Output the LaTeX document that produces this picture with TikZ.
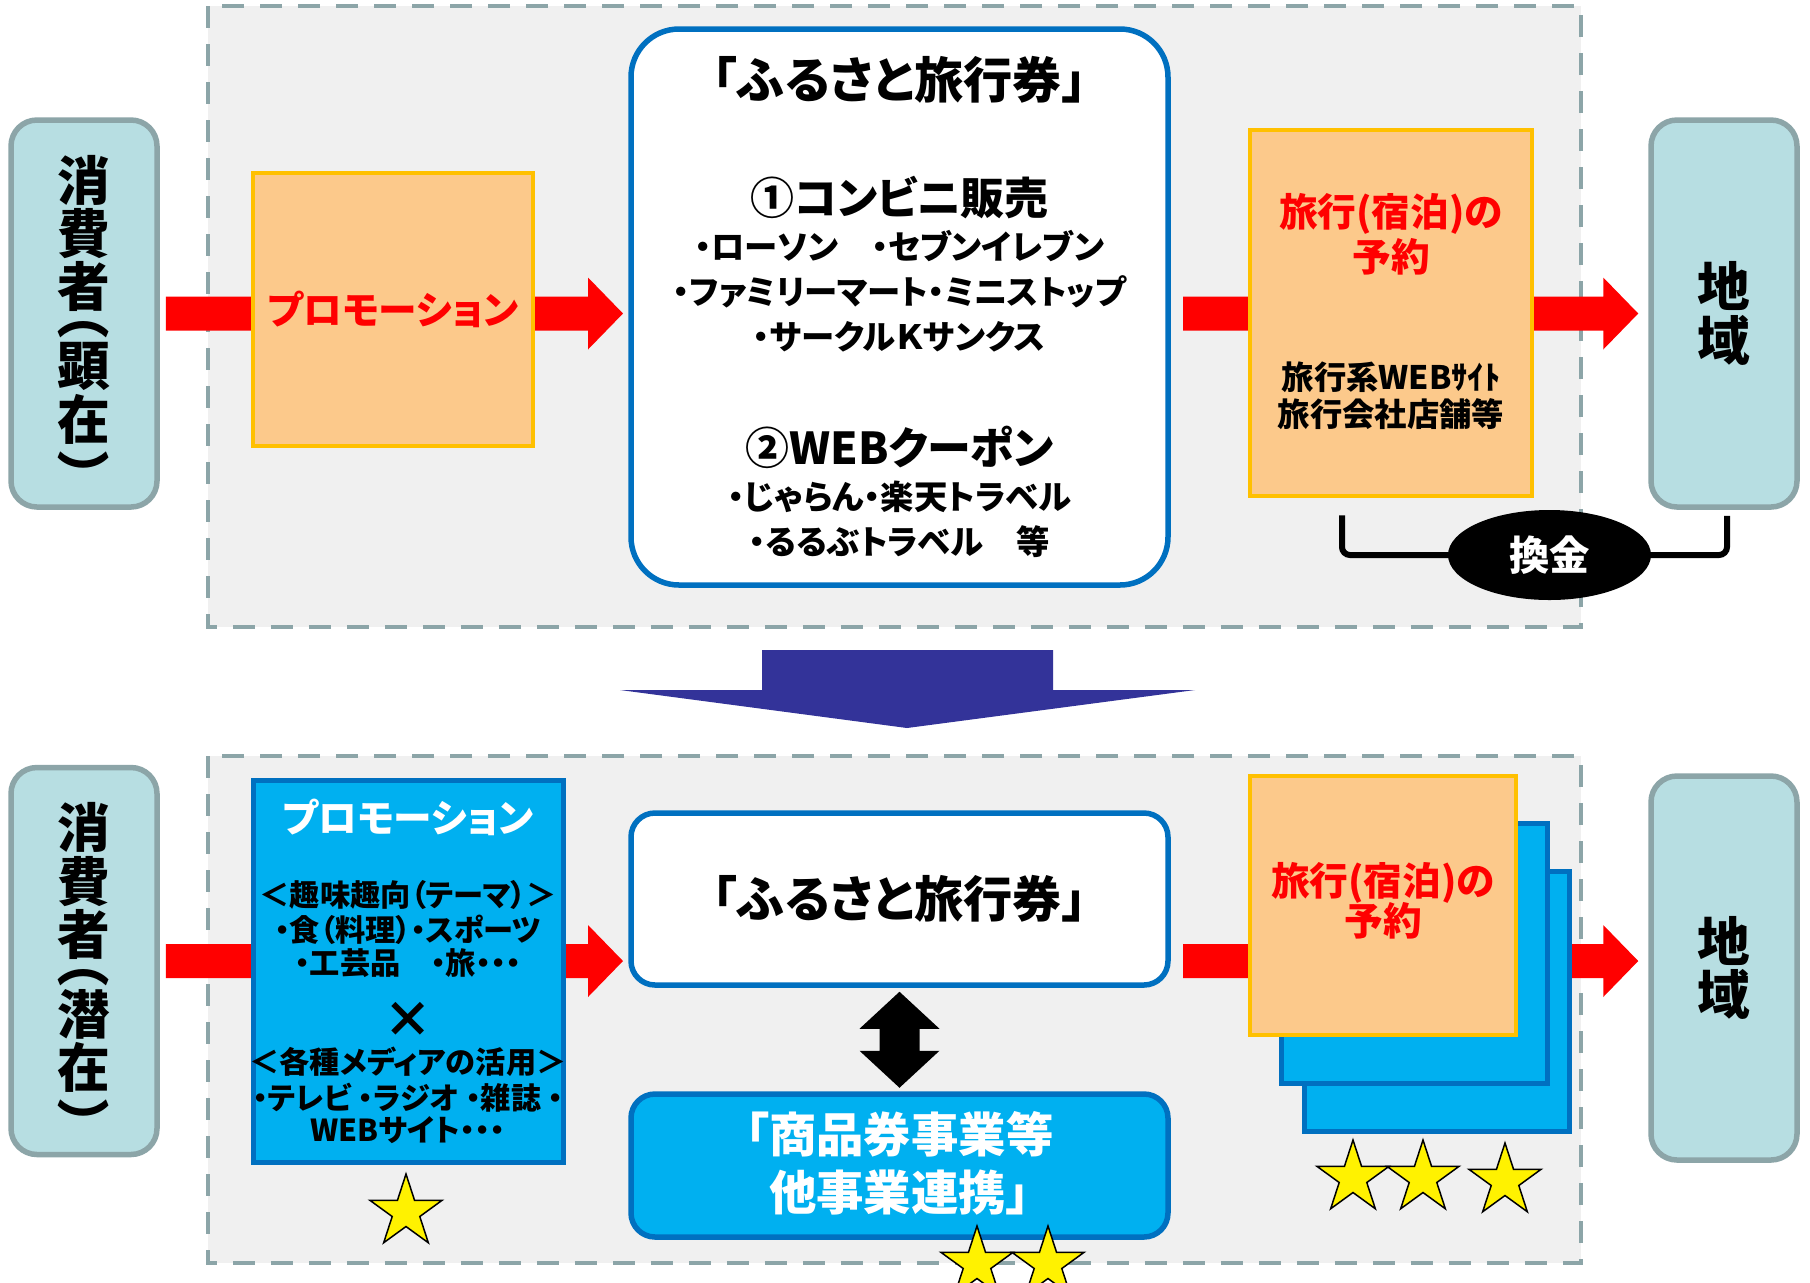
\documentclass[tikz,border=0pt]{standalone}
\usepackage{fontspec}
\setmainfont{Noto Sans CJK JP}[RawFeature=+palt]
\usetikzlibrary{positioning,calc,shapes.geometric}

\definecolor{panelgray}{HTML}{F0F0F0}
\definecolor{framegray}{HTML}{8CA5A8}
\definecolor{tealfill}{HTML}{B7DEE2}
\definecolor{orangefill}{HTML}{FCC98B}
\definecolor{goldline}{HTML}{FFC000}
\definecolor{blueline}{HTML}{0070C0}
\definecolor{cyanfill}{HTML}{00B0F0}
\definecolor{arrowred}{HTML}{FF0000}
\definecolor{navyarrow}{HTML}{333399}

\newcommand{\jsize}[2]{\fontsize{#1}{#2}\selectfont\bfseries}
% block arrow, tip at #2, height taken from #1
\newcommand{\redarrow}[2]{%
  \fill[arrowred] let \p1=(#1), \p2=(#2) in
    (\x1,\y1+1.7mm) -- (\x2-3.5mm,\y1+1.7mm) -- (\x2-3.5mm,\y1+3.6mm) -- (\x2,\y1)
    -- (\x2-3.5mm,\y1-3.6mm) -- (\x2-3.5mm,\y1-1.7mm) -- (\x1,\y1-1.7mm) -- cycle;}

\begin{document}
\begin{tikzpicture}[
    x=0.1mm, y=-0.1mm,
    panel/.style={draw=framegray, line width=0.45mm, dash pattern=on 2.2mm off 1.6mm, fill=panelgray},
    person/.style={rectangle, rounded corners=2.6mm, draw=framegray, line width=0.55mm, fill=tealfill,
        minimum width=14.6mm, minimum height=38.7mm, inner sep=0, align=center, font=\jsize{15pt}{15.2pt}},
    vtxt/.style={inner sep=0, align=center, font=\jsize{15pt}{15.2pt}},
    vparen/.style={inner sep=0, rotate=-90, font=\jsize{15pt}{15.2pt}},
    orangebox/.style={rectangle, draw=goldline, line width=0.45mm, fill=orangefill, inner sep=0},
    bluebox/.style={rectangle, draw=blueline, line width=0.5mm, fill=cyanfill, inner sep=0},
    ticketbox/.style={rectangle, draw=blueline, line width=0.55mm, fill=white, inner sep=0},
    bigtxt/.style={font=\jsize{14pt}{16pt}, inner sep=0},
    headtxt/.style={font=\jsize{12.5pt}{15pt}, inner sep=0},
    itemtxt/.style={font=\jsize{9.5pt}{12pt}, inner sep=0},
    smalltxt/.style={font=\jsize{8.6pt}{10pt}, inner sep=0},
    redtxt/.style={text=arrowred, font=\jsize{11pt}{13pt}, inner sep=0},
    cash/.style={ellipse, fill=black, minimum width=20.3mm, minimum height=9mm, inner sep=0,
        text=white, font=\jsize{11.5pt}{13pt}},
    staritem/.style={star, star points=5, star point ratio=2.618, minimum size=7.6mm, inner sep=0,
        fill=yellow, draw=black, line width=0.15mm}
]
\useasboundingbox (0,0) rectangle (1810,1282);
\fill[white] (0,0) rectangle (1810,1282);

% ---- before
\draw[panel] (208,6) rectangle (1581,627);

\node[person] (cons1) at (84,313.5) {};
\node[vtxt]   (cons1top)   at ($(cons1.center)+(0,-80)$)  {消\\費\\者};
\node[vparen] (cons1open)  at ($(cons1.center)+(0,11.5)$) {（};
\node[vtxt]   (cons1mid)   at ($(cons1.center)+(0,80)$)   {顕\\在};
\node[vparen] (cons1close) at ($(cons1.center)+(0,151.5)$) {）};
\node[person] (region1) at (1724,313.5) {地\\域};

\redarrow{[xshift=0.6mm]cons1.east}{[xshift=-0.8mm]631,307}
\redarrow{[xshift=1.5mm]1168,307 |- region1.west}{[xshift=-1mm]region1.west}

\node[orangebox, minimum width=28mm, minimum height=27.3mm] (promo1) at (393,309.5) {};
\node[redtxt] (promo1txt) at (promo1.center) {プロモーション};

\node[ticketbox, rounded corners=4.8mm, minimum width=53.7mm, minimum height=55.6mm] (ticket1) at (899.5,307) {};
\node[bigtxt]  (t1title) at ($(ticket1.north)+(0,54)$)  {「ふるさと旅行券」};
\node[headtxt] (t1conv)  at ($(ticket1.north)+(0,171)$) {①コンビニ販売};
\node[itemtxt] (t1convA) at ($(ticket1.north)+(0,220)$) {・ローソン　・セブンイレブン};
\node[itemtxt] (t1convB) at ($(ticket1.north)+(0,266)$) {・ファミリーマート・ミニストップ};
\node[itemtxt] (t1convC) at ($(ticket1.north)+(0,311)$) {・サークルＫサンクス};
\node[headtxt] (t1web)   at ($(ticket1.north)+(0,421)$) {②WEBクーポン};
\node[itemtxt] (t1webA)  at ($(ticket1.north)+(0,471)$) {・じゃらん・楽天トラベル};
\node[itemtxt] (t1webB)  at ($(ticket1.north)+(0,515)$) {・るるぶトラベル　等};

\node[orangebox, minimum width=28.2mm, minimum height=36.6mm] (book1) at (1391,313) {};
\node[redtxt]  (book1a) at ($(book1.north)+(0,86)$)  {旅行(宿泊)の};
\node[redtxt]  (book1b) at ($(book1.north)+(0,129)$) {予約};
\node[itemtxt, font=\jsize{9.2pt}{11pt}] (book1c) at ($(book1.north)+(0,249)$) {旅行系WEBｻｲﾄ};
\node[itemtxt, font=\jsize{9.2pt}{11pt}] (book1d) at ($(book1.north)+(0,286)$) {旅行会社店舗等};

\coordinate (cashpos) at (1549.5,555);
\draw[line width=0.6mm, rounded corners=0.8mm] ([xshift=-4.9mm,yshift=-1.7mm]book1.south) |- (cashpos)
    -| ([xshift=0.3mm,yshift=-0.6mm]region1.south);
\node[cash] (cash) at (cashpos) {換金};

% ---- change
\fill[navyarrow] (762,650) -- (1053,650) -- (1053,690) -- (1195,690) -- (907,728)
    -- (620,690) -- (762,690) -- cycle;

% ---- after
\draw[panel] (208,756) rectangle (1581,1263);

\node[person] (cons2) at (84,961) {};
\node[vtxt]   (cons2top)   at ($(cons2.center)+(0,-80)$)  {消\\費\\者};
\node[vparen] (cons2open)  at ($(cons2.center)+(0,11.5)$) {（};
\node[vtxt]   (cons2mid)   at ($(cons2.center)+(0,80)$)   {潜\\在};
\node[vparen] (cons2close) at ($(cons2.center)+(0,151.5)$) {）};
\node[person, minimum height=38.4mm] (region2) at (1724,968) {地\\域};

\redarrow{[xshift=0.6mm]cons2.east}{[xshift=-0.8mm]631,958}
\redarrow{[xshift=1.5mm]1168,958 |- cons2.east}{[xshift=-1mm]region2.west |- cons2.east}

\node[bluebox, minimum width=31mm, minimum height=38.2mm] (promo2) at (408,971) {};
\node[redtxt, text=white] (p2title) at ($(promo2.north)+(0,40)$)  {プロモーション};
\node[smalltxt] (p2a) at ($(promo2.north)+(0,117)$) {＜趣味趣向（テーマ）＞};
\node[smalltxt] (p2b) at ($(promo2.north)+(0,152)$) {・食（料理）・スポーツ};
\node[smalltxt] (p2c) at ($(promo2.north)+(0,186)$) {・工芸品　・旅・・・};
\node[bigtxt]   (p2x) at ($(promo2.north)+(0,242)$) {×};
\node[smalltxt] (p2d) at ($(promo2.north)+(0,284)$) {＜各種メディアの活用＞};
\node[smalltxt] (p2e) at ($(promo2.north)+(0,320)$) {・テレビ ・ラジオ ・雑誌 ・};
\node[smalltxt] (p2f) at ($(promo2.north)+(0,353)$) {WEBサイト・・・};

\node[ticketbox, rounded corners=2.4mm, minimum width=53.7mm, minimum height=17.2mm] (ticket2) at (899.5,899) {};
\node[bigtxt] (t2title) at (ticket2.center) {「ふるさと旅行券」};

\fill (ticket2.south) ++(0,4) -- ++(40,37) -- ++(-20,0) -- ++(0,22) -- ++(20,0) -- ++(-40,37)
    -- ++(-40,-37) -- ++(20,0) -- ++(0,-22) -- ++(-20,0) -- cycle;

\node[bluebox, draw=blueline, line width=0.55mm, rounded corners=2.4mm, minimum width=53.7mm, minimum height=14.3mm] (coupon) at (899.5,1165.5) {};
\node[bigtxt, text=white, font=\jsize{13.5pt}{16pt}] (coupona) at ($(coupon.north)+(0,43)$)  {「商品券事業等};
\node[bigtxt, text=white, font=\jsize{13.5pt}{16pt}] (couponb) at ($(coupon.north)+(0,101)$) {他事業連携」};

\node[bluebox, minimum width=26.5mm, minimum height=26mm] (stackback) at (1436.5,1001) {};
\node[bluebox, minimum width=26.6mm, minimum height=26mm] (stackmid) at (1414,953) {};
\node[orangebox, minimum width=26.6mm, minimum height=25.9mm] (book2) at (1383,905.5) {};
\node[redtxt] (book2a) at ($(book2.north)+(0,109)$) {旅行(宿泊)の};
\node[redtxt] (book2b) at ($(book2.north)+(0,147)$) {予約};

\foreach \sname/\sx/\sy in {starA/406/1212, starB/977/1264, starC/1048/1264,
    starD/1353/1178, starE/1423/1178, starF/1505/1181}
  \node[staritem] (\sname) at (\sx,\sy) {};

\end{tikzpicture}
\end{document}
